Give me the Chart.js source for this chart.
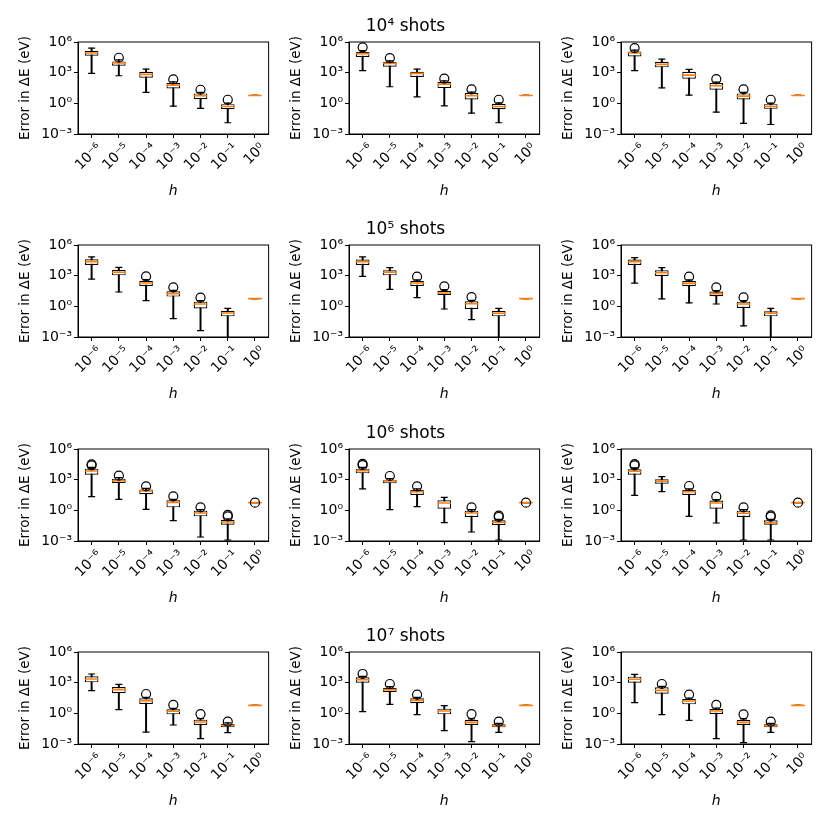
<!DOCTYPE html>
<html>
<head>
<meta charset="utf-8">
<script src="https://cdn.jsdelivr.net/npm/chart.js@4/dist/chart.umd.min.js"></script>
<style>
  html, body { margin: 0; padding: 0; background: #fff; }
  #fig { position: relative; width: 830px; height: 830px; overflow: hidden; }
  .panel { position: absolute; width: 277px; height: 200px; }
</style>
</head>
<body>
<div id="fig"></div>
<script>
// categories on the x axis (step size h)
const hLabels = ['10⁻⁶', '10⁻⁵', '10⁻⁴', '10⁻³', '10⁻²', '10⁻¹', '10⁰'];
// y ticks
const yTickValues = [1e-3, 1, 1e3, 1e6];
const yTickLabels = ['10⁻³', '10⁰', '10³', '10⁶'];
// one title per panel, row by row
const panelTitles = [' ', '10⁴ shots', ' ', ' ', '10⁵ shots', ' ', ' ', '10⁶ shots', ' ', ' ', '10⁷ shots', ' '];

// box plot statistics as log10(error / eV)
// one row per panel (row-major), one column per h
const whiskerLow = [
  [2.93, 2.70, 1.07, -0.27, -0.50, -1.90, 0.77],
  [3.19, 1.62, 0.64, -0.24, -0.96, -1.90, 0.77],
  [3.19, 1.52, 0.80, -0.86, -1.97, -2.07, 0.77],
  [2.67, 1.40, 0.55, -1.20, -2.38, -3.50, 0.75],
  [2.94, 1.66, 0.85, -0.26, -1.30, -3.50, 0.75],
  [2.28, 0.72, 0.33, 0.23, -1.92, -3.50, 0.75],
  [1.34, 1.08, 0.10, -1.01, -2.61, -2.90, 0.75],
  [2.09, 0.07, 0.36, -1.20, -2.12, -2.90, 0.75],
  [1.47, 1.83, -0.59, -1.24, -2.90, -2.90, 0.75],
  [2.22, 0.36, -1.83, -1.14, -2.48, -1.89, 0.78],
  [0.16, 0.88, -0.13, -1.70, -2.77, -1.86, 0.78],
  [1.04, -0.13, -0.68, -2.48, -2.87, -1.86, 0.78]
];
const quartile1 = [
  [4.66, 3.68, 2.50, 1.46, 0.41, -0.57, 0.77],
  [4.53, 3.58, 2.57, 1.49, 0.38, -0.57, 0.77],
  [4.59, 3.52, 2.41, 1.33, 0.38, -0.54, 0.77],
  [4.04, 3.03, 1.99, 0.95, -0.20, -0.98, 0.75],
  [4.04, 3.03, 1.99, 1.11, -0.26, -0.98, 0.75],
  [4.04, 2.97, 1.96, 0.98, -0.16, -0.98, 0.75],
  [3.49, 2.67, 1.57, 0.29, -0.59, -1.40, 0.75],
  [3.62, 2.64, 1.50, 0.16, -0.65, -1.43, 0.75],
  [3.49, 2.61, 1.50, 0.16, -0.65, -1.40, 0.75],
  [3.03, 1.96, 0.91, -0.10, -1.14, -1.37, 0.78],
  [3.00, 2.09, 0.98, -0.10, -1.14, -1.37, 0.78],
  [3.00, 1.92, 0.88, -0.07, -1.14, -1.37, 0.78]
];
const median = [
  [4.92, 3.94, 2.83, 1.78, 0.74, -0.31, 0.77],
  [4.86, 3.91, 2.93, 1.88, 0.74, -0.31, 0.77],
  [4.92, 3.81, 2.76, 1.72, 0.71, -0.31, 0.77],
  [4.37, 3.33, 2.28, 1.24, 0.23, -0.65, 0.75],
  [4.37, 3.33, 2.28, 1.30, 0.26, -0.68, 0.75],
  [4.37, 3.29, 2.25, 1.24, 0.23, -0.68, 0.75],
  [3.85, 2.90, 1.89, 0.78, -0.26, -1.14, 0.75],
  [3.88, 2.87, 1.83, 0.72, -0.26, -1.17, 0.75],
  [3.82, 2.84, 1.83, 0.72, -0.29, -1.21, 0.75],
  [3.36, 2.32, 1.24, 0.20, -0.85, -1.17, 0.78],
  [3.29, 2.32, 1.27, 0.23, -0.88, -1.21, 0.78],
  [3.33, 2.25, 1.21, 0.23, -0.88, -1.21, 0.78]
];
const quartile3 = [
  [5.12, 4.10, 3.09, 2.00, 0.97, -0.08, 0.77],
  [5.02, 4.04, 3.09, 2.11, 1.00, -0.05, 0.77],
  [5.08, 4.07, 3.09, 1.98, 0.97, -0.08, 0.77],
  [4.60, 3.55, 2.51, 1.47, 0.46, -0.46, 0.75],
  [4.57, 3.52, 2.48, 1.53, 0.49, -0.46, 0.75],
  [4.57, 3.52, 2.48, 1.44, 0.46, -0.49, 0.75],
  [4.08, 3.10, 2.05, 0.98, -0.03, -0.95, 0.75],
  [4.08, 3.00, 1.99, 0.98, -0.03, -0.98, 0.75],
  [4.01, 3.03, 1.99, 0.95, -0.03, -0.98, 0.75],
  [3.62, 2.58, 1.47, 0.39, -0.62, -1.04, 0.78],
  [3.52, 2.51, 1.47, 0.46, -0.65, -1.08, 0.78],
  [3.59, 2.54, 1.40, 0.42, -0.65, -1.08, 0.78]
];
const whiskerHigh = [
  [5.41, 4.25, 3.35, 2.10, 1.07, 0.02, 0.77],
  [5.15, 4.15, 3.35, 2.20, 1.10, 0.05, 0.77],
  [5.20, 4.33, 3.32, 2.08, 1.07, 0.02, 0.77],
  [4.83, 3.82, 2.62, 1.57, 0.56, -0.20, 0.75],
  [4.83, 3.78, 2.58, 1.63, 0.59, -0.20, 0.75],
  [4.76, 3.78, 2.58, 1.54, 0.56, -0.20, 0.75],
  [4.20, 3.20, 2.15, 1.08, 0.07, -0.85, 0.75],
  [4.20, 3.10, 2.09, 1.27, 0.07, -0.88, 0.75],
  [4.15, 3.29, 2.09, 1.05, 0.07, -0.88, 0.75],
  [3.85, 2.84, 1.57, 0.49, -0.52, -0.94, 0.78],
  [3.62, 2.61, 1.57, 0.75, -0.55, -0.98, 0.78],
  [3.82, 2.64, 1.50, 0.52, -0.55, -0.98, 0.78]
];
// outliers: [h index, log10(error)]
const fliers = [
  [[1, 4.46], [3, 2.34], [4, 1.33], [5, 0.35]],
  [[0, 5.48], [1, 4.43], [3, 2.41], [4, 1.36], [5, 0.35]],
  [[0, 5.41], [3, 2.37], [4, 1.36], [5, 0.35]],
  [[2, 2.93], [3, 1.86], [4, 0.85]],
  [[2, 2.90], [3, 1.96], [4, 0.91]],
  [[2, 2.90], [3, 1.86], [4, 0.88]],
  [[0, 4.50], [0, 4.40], [1, 3.39], [2, 2.35], [3, 1.37], [4, 0.29], [5, -0.45], [5, -0.60], [6, 0.75]],
  [[0, 4.55], [0, 4.42], [1, 3.36], [2, 2.35], [4, 0.29], [5, -0.52], [5, -0.65], [6, 0.75]],
  [[0, 4.52], [0, 4.40], [2, 2.38], [3, 1.34], [4, 0.29], [5, -0.50], [5, -0.62], [6, 0.75]],
  [[2, 1.89], [3, 0.82], [4, -0.07], [5, -0.81]],
  [[0, 3.85], [1, 2.87], [2, 1.83], [4, -0.07], [5, -0.81]],
  [[1, 2.87], [2, 1.83], [3, 0.82], [4, -0.10], [5, -0.81]]
];

const FONT = 'DejaVu Sans';
const colLeft = [0, 271, 543];
const rowTop = [0, 203, 407, 610];

// black frame round the plot area, like matplotlib spines
const framePlugin = {
  id: 'frame',
  afterDatasetsDraw(chart) {
    const { ctx, chartArea: a } = chart;
    ctx.save();
    ctx.strokeStyle = '#000';
    ctx.lineWidth = 1;
    ctx.strokeRect(a.left, a.top, a.right - a.left, a.bottom - a.top);
    ctx.restore();
  }
};

const pow = v => Math.pow(10, v);

function makePanel(i) {
  const canvas = document.createElement('canvas');
  canvas.className = 'panel';
  canvas.width = 277;
  canvas.height = 200;
  canvas.style.left = colLeft[i % 3] + 'px';
  canvas.style.top = rowTop[Math.floor(i / 3)] + 'px';
  document.getElementById('fig').appendChild(canvas);

  const lo = whiskerLow[i], hi = whiskerHigh[i];
  const q1 = quartile1[i], q3 = quartile3[i];

  new Chart(canvas, {
    type: 'bar',
    data: {
      labels: hLabels,
      datasets: [
        {
          // whisker line
          type: 'bar',
          data: lo.map((v, k) => [pow(v), pow(hi[k])]),
          backgroundColor: '#000',
          barThickness: 1.3,
          grouped: false,
          order: 5
        },
        {
          // box q1..q3
          type: 'bar',
          data: q1.map((v, k) => [pow(v), pow(q3[k])]),
          backgroundColor: '#fff',
          borderColor: '#000',
          borderWidth: 1.2,
          borderSkipped: false,
          barPercentage: 0.5,
          categoryPercentage: 1,
          grouped: false,
          order: 4
        },
        {
          // lower caps
          type: 'line',
          data: lo.map(pow),
          showLine: false,
          pointStyle: 'line',
          pointRadius: 3.5,
          pointBorderColor: '#000',
          pointBorderWidth: 1.2,
          order: 3
        },
        {
          // upper caps
          type: 'line',
          data: hi.map(pow),
          showLine: false,
          pointStyle: 'line',
          pointRadius: 3.5,
          pointBorderColor: '#000',
          pointBorderWidth: 1.2,
          order: 3
        },
        {
          // medians
          type: 'line',
          data: median[i].map(pow),
          showLine: false,
          pointStyle: 'line',
          pointRadius: 6.8,
          pointBorderColor: '#ff7f0e',
          pointBorderWidth: 1.6,
          order: 2
        },
        {
          // outliers, x given by category label
          type: 'line',
          data: fliers[i].map(([k, v]) => ({ x: hLabels[k], y: pow(v) })),
          showLine: false,
          pointStyle: 'circle',
          pointRadius: 4.5,
          pointBackgroundColor: 'rgba(0,0,0,0)',
          pointBorderColor: '#000',
          pointBorderWidth: 1.2,
          order: 1
        }
      ]
    },
    options: {
      responsive: false,
      devicePixelRatio: 1,
      animation: false,
      events: [],
      layout: { padding: { left: 0, right: 8, top: 0, bottom: 0 } },
      plugins: {
        legend: { display: false },
        tooltip: { enabled: false },
        title: {
          display: true,
          text: panelTitles[i],
          color: '#000',
          font: { family: FONT, size: 17, weight: 'normal' },
          padding: { top: 16.5, bottom: 5.1 }
        }
      },
      scales: {
        x: {
          type: 'category',
          offset: true,
          grid: { offset: false, drawOnChartArea: false, drawTicks: true, tickLength: 4, color: '#000' },
          border: { color: '#000' },
          ticks: {
            color: '#000',
            font: { family: FONT, size: 14 },
            minRotation: 45,
            maxRotation: 45,
            labelOffset: 8,
            padding: 2,
            autoSkip: false
          },
          title: {
            display: true,
            text: 'h',
            color: '#000',
            font: { family: FONT, size: 14, style: 'italic' },
            padding: { top: 0, bottom: 0 }
          },
          afterFit(s) { s.height = 66; }
        },
        y: {
          type: 'logarithmic',
          min: 1e-3,
          max: 1e6,
          afterBuildTicks(s) { s.ticks = yTickValues.map(v => ({ value: v })); },
          grid: { drawOnChartArea: false, drawTicks: true, tickLength: 4, color: '#000' },
          border: { color: '#000' },
          ticks: {
            color: '#000',
            font: { family: FONT, size: 14 },
            padding: 2,
            autoSkip: false,
            callback: v => {
              const k = yTickValues.indexOf(v);
              return k >= 0 ? yTickLabels[k] : '';
            }
          },
          title: {
            display: true,
            text: 'Error in ΔE (eV)',
            color: '#000',
            font: { family: FONT, size: 13.5 },
            padding: { top: 17, bottom: 0 }
          },
          afterFit(s) { s.width = 78; }
        }
      }
    },
    plugins: [framePlugin]
  });
}

for (let i = 0; i < 12; i++) makePanel(i);
</script>
</body>
</html>
